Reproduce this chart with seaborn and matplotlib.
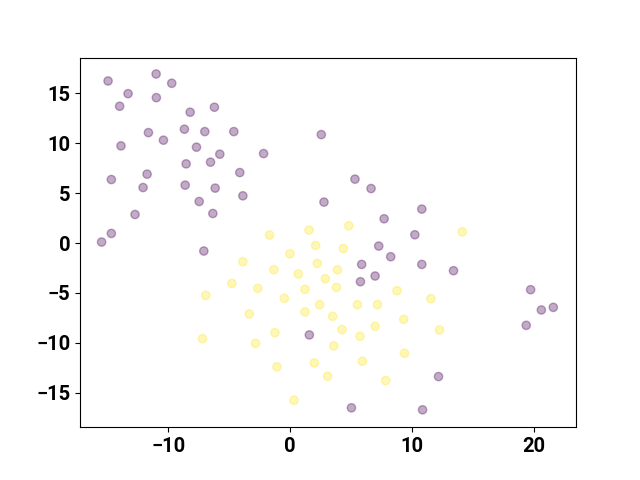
import matplotlib
matplotlib.use("Agg")
import matplotlib.pyplot as plt
import seaborn as sns
import pandas as pd

# cluster 0 (purple)
x0 = [-14.94, -11.00, -9.72, -13.30, -10.98, -13.99, -8.21, -6.22, -11.63, -10.40,
      -8.68, -7.01, -4.63, 2.54, -13.88, -7.69, -5.78, -8.54, -6.54, -2.19,
      -4.14, -14.67, -11.74, -12.07, -8.62, -6.16, -7.47, -3.89, -6.35, -12.73,
      2.76, -14.67, -15.47, -7.09, 1.56, 5.30, 6.62, 10.78, 7.69, 10.21,
      7.25, 8.23, 5.85, 10.78, 13.38, 6.95, 5.75, 19.70, 20.58, 21.56,
      19.34, 12.15, 5.01, 10.84]
y0 = [16.23, 16.93, 16.00, 14.96, 14.56, 13.70, 13.10, 13.60, 11.06, 10.30,
      11.40, 11.16, 11.16, 10.86, 9.73, 9.60, 8.90, 7.93, 8.10, 8.96,
      7.06, 6.36, 6.90, 5.56, 5.80, 5.50, 4.16, 4.73, 2.96, 2.86,
      4.10, 0.96, 0.10, -0.80, -9.20, 6.40, 5.46, 3.40, 2.43, 0.83,
      -0.30, -1.37, -2.14, -2.14, -2.77, -3.30, -3.87, -4.67, -6.70, -6.44,
      -8.24, -13.37, -16.50, -16.70]

# cluster 1 (yellow)
x1 = [-1.70, 1.53, 4.79, 14.09, 2.08, 4.35, -0.03, -3.89, -1.35, 2.21,
      3.86, 0.66, 2.87, -4.79, -2.66, 1.20, 3.78, 8.75, -6.93, -0.49,
      2.41, 5.50, 7.14, 11.52, 1.20, -3.37, 3.47, 9.30, 4.24, 6.95,
      12.23, 5.71, -1.26, -7.20, -2.85, 3.56, 9.36, 5.91, 1.97, -1.10,
      3.06, 7.82, 0.30]
y1 = [0.80, 1.30, 1.73, 1.13, -0.24, -0.54, -1.07, -1.87, -2.67, -2.04,
      -2.67, -3.10, -3.57, -4.04, -4.54, -4.64, -4.44, -4.77, -5.24, -5.54,
      -6.17, -6.17, -6.17, -5.57, -6.90, -7.10, -7.34, -7.64, -8.67, -8.34,
      -8.70, -9.34, -8.97, -9.57, -10.04, -10.30, -11.04, -11.84, -12.00, -12.40,
      -13.34, -13.77, -15.74]

df = pd.DataFrame({
    "x": x0 + x1,
    "y": y0 + y1,
    "label": [0] * len(x0) + [1] * len(x1),
})

plt.rcParams["font.family"] = ["Roboto", "DejaVu Sans"]
plt.rcParams["font.weight"] = "bold"

fig, ax = plt.subplots(figsize=(6.4, 4.8), dpi=100)
sns.scatterplot(data=df, x="x", y="y", hue="label",
                palette={0: "#440154", 1: "#fde725"},
                alpha=0.33, s=36, edgecolor="face", linewidth=1,
                legend=False, ax=ax)
ax.set_xlim(-17.24, 23.42)
ax.set_ylim(-18.44, 18.57)
ax.set_xticks([-10, 0, 10, 20])
ax.set_yticks([-15, -10, -5, 0, 5, 10, 15])
ax.set_xlabel("")
ax.set_ylabel("")
for lab in ax.get_xticklabels() + ax.get_yticklabels():
    lab.set_fontsize(14.5)
    lab.set_fontweight("bold")

fig.savefig("out.png", dpi=100)
